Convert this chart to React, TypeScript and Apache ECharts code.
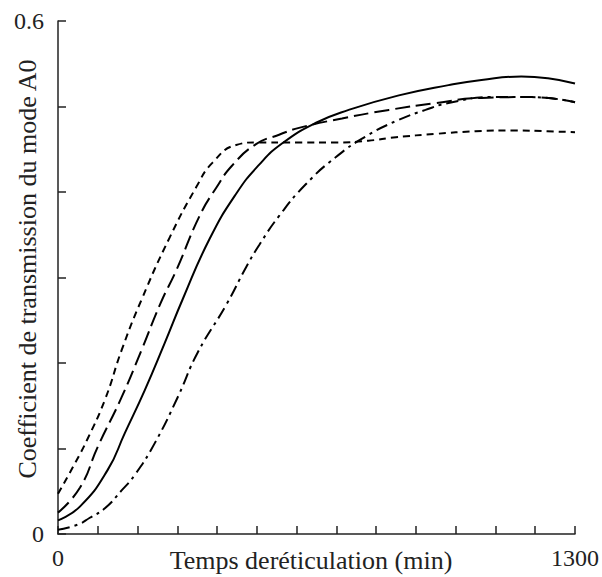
import React, { useEffect, useRef } from 'react';
import * as echarts from 'echarts';

// Time (min) and transmission coefficient readings for each curve
const shortDashX = [0, 43, 73, 118, 160, 210, 281, 348, 388, 448, 500, 600, 700, 780, 850, 950, 1050, 1150, 1230, 1300];
const shortDashY = [0.047, 0.083, 0.11, 0.157, 0.215, 0.274, 0.347, 0.406, 0.434, 0.455, 0.458, 0.458, 0.458, 0.46, 0.464, 0.468, 0.471, 0.472, 0.471, 0.47];

const longDashX = [0, 55, 100, 160, 210, 258, 298, 356, 398, 438, 498, 556, 606, 714, 832, 949, 1065, 1190, 1300];
const longDashY = [0.025, 0.054, 0.102, 0.16, 0.215, 0.27, 0.309, 0.372, 0.405, 0.431, 0.456, 0.467, 0.475, 0.486, 0.496, 0.504, 0.51, 0.511, 0.505];

const solidX = [0, 55, 125, 168, 218, 268, 313, 381, 448, 506, 564, 649, 731, 857, 982, 1065, 1165, 1232, 1300];
const solidY = [0.016, 0.032, 0.075, 0.118, 0.168, 0.223, 0.274, 0.345, 0.398, 0.432, 0.457, 0.481, 0.496, 0.513, 0.525, 0.531, 0.535, 0.533, 0.527];

const dashDotX = [0, 50, 80, 118, 160, 193, 243, 301, 351, 423, 473, 506, 556, 623, 699, 774, 850, 924, 982, 1090, 1190, 1300];
const dashDotY = [0.005, 0.011, 0.019, 0.03, 0.051, 0.069, 0.106, 0.16, 0.212, 0.268, 0.312, 0.338, 0.372, 0.409, 0.441, 0.465, 0.483, 0.496, 0.504, 0.511, 0.511, 0.505];

const xLabelsShown = [0, 1300];
const yLabelsShown = ['0', '0.6'];

const xTitle = 'Temps deréticulation (min)';
const yTitle = 'Coefficient de transmission du mode A0';

const FONT_NAME = 'Liberation Serif';

const pairs = (xs: number[], ys: number[]) => xs.map((x, i) => [x, ys[i]]);

export default function App() {
  const ref = useRef<HTMLDivElement>(null);
  useEffect(() => {
    if (!ref.current) return;
    const chart = echarts.init(ref.current, undefined, { renderer: 'svg' });
    const axisColor = '#222';
    const lineBase = { color: '#000', width: 2 };
    chart.setOption({
      animation: false,
      backgroundColor: '#fff',
      grid: { left: 58, right: 25, top: 21, bottom: 43, containLabel: false },
      xAxis: {
        type: 'value',
        min: 0,
        max: 1300,
        interval: 100,
        axisLine: { show: true, lineStyle: { color: axisColor, width: 1.5 } },
        axisTick: { show: true, inside: true, length: 8, lineStyle: { color: axisColor, width: 1.5 } },
        splitLine: { show: false },
        axisLabel: {
          show: true,
          showMinLabel: true,
          showMaxLabel: true,
          margin: 12,
          fontSize: 24,
          fontFamily: FONT_NAME,
          color: axisColor,
          formatter: (v: number) => (xLabelsShown.some((t) => Math.abs(t - v) < 1e-6) ? String(v) : ''),
        },
      },
      yAxis: {
        type: 'value',
        min: 0,
        max: 0.6,
        interval: 0.1,
        axisLine: { show: true, lineStyle: { color: axisColor, width: 1.5 } },
        axisTick: { show: true, inside: true, length: 8, lineStyle: { color: axisColor, width: 1.5 } },
        splitLine: { show: false },
        axisLabel: {
          show: true,
          showMinLabel: true,
          showMaxLabel: true,
          margin: 14,
          fontSize: 24,
          fontFamily: FONT_NAME,
          color: axisColor,
          formatter: (v: number) => {
            const hit = yLabelsShown.find((t) => Math.abs(parseFloat(t) - v) < 1e-6);
            return hit !== undefined ? hit : '';
          },
        },
      },
      series: [
        { type: 'line', data: pairs(shortDashX, shortDashY), smooth: true, symbol: 'none', lineStyle: { ...lineBase, type: [7, 5] } },
        { type: 'line', data: pairs(longDashX, longDashY), smooth: true, symbol: 'none', lineStyle: { ...lineBase, type: [15, 6] } },
        { type: 'line', data: pairs(solidX, solidY), smooth: true, symbol: 'none', lineStyle: { ...lineBase, type: 'solid' } },
        { type: 'line', data: pairs(dashDotX, dashDotY), smooth: true, symbol: 'none', lineStyle: { ...lineBase, type: [12, 5, 3, 5] } },
      ],
      graphic: [
        {
          type: 'text',
          x: 311,
          y: 560,
          style: { text: xTitle, fontSize: 26, fontFamily: FONT_NAME, fill: '#222', textAlign: 'center', textVerticalAlign: 'middle' },
        },
        {
          type: 'text',
          x: 27,
          y: 269,
          rotation: Math.PI / 2,
          style: { text: yTitle, fontSize: 26, fontFamily: FONT_NAME, fill: '#222', textAlign: 'center', textVerticalAlign: 'middle' },
        },
      ],
    });
    return () => chart.dispose();
  }, []);
  return <div ref={ref} style={{ width: 602, height: 577, position: 'absolute', left: 0, top: 0 }} />;
}
